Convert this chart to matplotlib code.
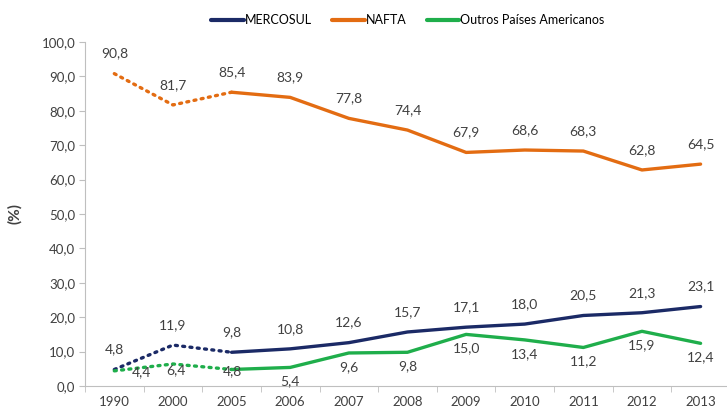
import matplotlib.pyplot as plt
import numpy as np

anos = ["1990", "2000", "2005", "2006", "2007", "2008", "2009", "2010", "2011", "2012", "2013"]
mercosul = [4.8, 11.9, 9.8, 10.8, 12.6, 15.7, 17.1, 18.0, 20.5, 21.3, 23.1]
nafta = [90.8, 81.7, 85.4, 83.9, 77.8, 74.4, 67.9, 68.6, 68.3, 62.8, 64.5]
outros = [4.4, 6.4, 4.8, 5.4, 9.6, 9.8, 15.0, 13.4, 11.2, 15.9, 12.4]

series = [
    ("MERCOSUL", mercosul, "#1b2a66", 1),
    ("NAFTA", nafta, "#e36c12", 1),
    ("Outros Países Americanos", outros, "#1fae4b", -1),
]

# ajustes manuais de alguns rótulos (em pixels)
ajustes = {("Outros Países Americanos", 0): (27, -1), ("Outros Países Americanos", 1): (3, -6),
           ("Outros Países Americanos", 2): (1, -2)}

plt.rcParams['font.family'] = ['Lato', 'DejaVu Sans']
fig = plt.figure(figsize=(7.27, 4.09), dpi=100)
ax = fig.add_axes([85 / 727, 1 - 386 / 409, 1 - 85 / 727 + 0.004, (386 - 42) / 409])

x = np.arange(len(anos))
texto = "#404040"
for nome, vals, cor, lado in series:
    ax.plot(x[:3], vals[:3], color=cor, lw=2.4, linestyle=(0, (0.6, 1.6)), dash_capstyle='round')
    ax.plot(x[2:], vals[2:], color=cor, lw=2.4, label=nome, solid_capstyle='round')
    for i, v in enumerate(vals):
        dx, dy = ajustes.get((nome, i), (0, 20 if lado > 0 else -14))
        ax.annotate(f"{v:.1f}".replace(".", ","), (x[i], v), xytext=(dx * 0.72, dy * 0.72),
                    textcoords="offset points", ha="center", va="center", fontsize=10, color=texto)

ax.set_xlim(-0.5, 10.5)
ax.set_ylim(0, 100)
ax.set_yticks(np.arange(0, 101, 10))
ax.set_yticklabels([f"{v:.1f}".replace(".", ",") for v in np.arange(0, 101, 10)])
ax.set_xticks(x)
ax.set_xticklabels(anos)
ax.set_xticks(np.arange(-0.5, 10.6, 1), minor=True)
ax.tick_params(axis='x', which='major', length=0, pad=7, labelsize=9.5, labelcolor=texto)
ax.tick_params(axis='x', which='minor', length=4, color="#bfbfbf")
ax.tick_params(axis='y', length=4, color="#bfbfbf", labelsize=9.5, labelcolor=texto, pad=3)
for s in ["top", "right"]:
    ax.spines[s].set_visible(False)
for s in ["left", "bottom"]:
    ax.spines[s].set_color("#bfbfbf")
ax.set_ylabel("(%)", fontsize=11, color=texto, labelpad=14, fontweight="bold")

fig.legend(loc="center", bbox_to_anchor=(408 / 727, 1 - 20 / 409), ncol=3, frameon=False,
           fontsize=9, handlelength=2.6, handletextpad=0.1, columnspacing=1.6)
for linha in fig.legends[0].get_lines():
    linha.set_linewidth(3)

fig.savefig("out.png", dpi=100)
